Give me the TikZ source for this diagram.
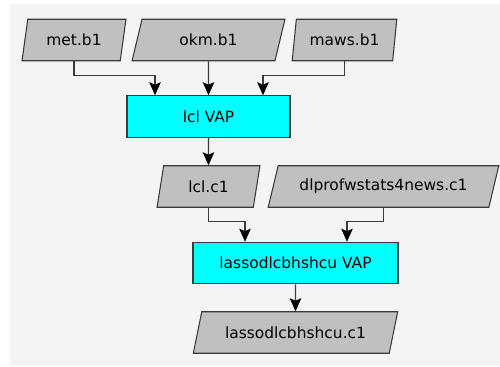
\documentclass[tikz,border=0pt]{standalone}
\usepackage{fontspec}
\setsansfont{DejaVu Sans}
\usetikzlibrary{shapes.geometric,arrows.meta,calc}
\definecolor{panelgray}{HTML}{F4F4F4}
\definecolor{datagray}{HTML}{C0C0C0}
\definecolor{edgegray}{HTML}{3A3A3A}
\definecolor{vapcyan}{HTML}{00FFFF}

\begin{document}
\begin{tikzpicture}[x=0.02cm,y=-0.02cm]
		\tikzstyle {data node} = [trapezium, trapezium stretches=true, trapezium left angle=70, trapezium right angle=110, draw=edgegray, fill=datagray, line width=0.6pt, inner sep=0pt, minimum height=0.83cm, font=\sffamily\fontsize{8.8}{10}\selectfont]
		\tikzstyle {vap node} = [rectangle, draw=edgegray, fill=vapcyan, line width=0.6pt, inner sep=0pt, minimum height=0.83cm, font=\sffamily\fontsize{8.8}{10}\selectfont]
		\tikzstyle {flow line} = [draw=edgegray, line width=0.6pt, -{Stealth[length=2.6mm,width=2.3mm,inset=0.5mm,color=black]}]

		\useasboundingbox (0,0) rectangle (500,366);
		\fill[panelgray] (10,4) rectangle (500,366);

		% inputs
		\node[data node, trapezium left angle=74, trapezium right angle=106, minimum width=2.08cm] (met) at (74,40) {met.b1};
		\node[data node, trapezium left angle=70, trapezium right angle=110, minimum width=3.06cm] (okm) at (208.5,40) {okm.b1};
		\node[data node, trapezium left angle=76, trapezium right angle=104, minimum width=2.1cm] (maws) at (344.5,40) {maws.b1};

		\node[vap node, minimum width=3.26cm] (lclvap) at (208.5,116.5) {lcl VAP};

		\node[data node, trapezium left angle=76, trapezium right angle=104, minimum width=2.06cm] (lclc1) at (208.5,186.5) {lcl.c1};
		\node[data node, trapezium left angle=62, trapezium right angle=118, minimum width=4.62cm] (dlprof) at (383.5,186.5) {dlprofwstats4news.c1};

		\node[vap node, minimum width=4.1cm] (lassovap) at (295.5,263) {lassodlcbhshcu VAP};

		\node[data node, trapezium left angle=62, trapezium right angle=118, minimum width=4.1cm] (lassoc1) at (295.5,332.5) {lassodlcbhshcu.c1};

		% connectors
		\draw[flow line] (met.south) -- ++(0,14) -| ($(lclvap.north)+(-53.5,0)$);
		\draw[flow line] (okm.south) -- (lclvap.north);
		\draw[flow line] (maws.south) -- ++(0,14) -| ($(lclvap.north)+(54.5,0)$);

		\draw[flow line] (lclvap.south) -- (lclc1.north);

		\draw[flow line] (lclc1.south) -- ++(0,14) -| ($(lassovap.north)+(-50.5,0)$);
		\draw[flow line] (dlprof.south) -- ++(0,14) -| ($(lassovap.north)+(51.5,0)$);

		\draw[flow line] (lassovap.south) -- (lassoc1.north);
	\end{tikzpicture}
\end{document}
